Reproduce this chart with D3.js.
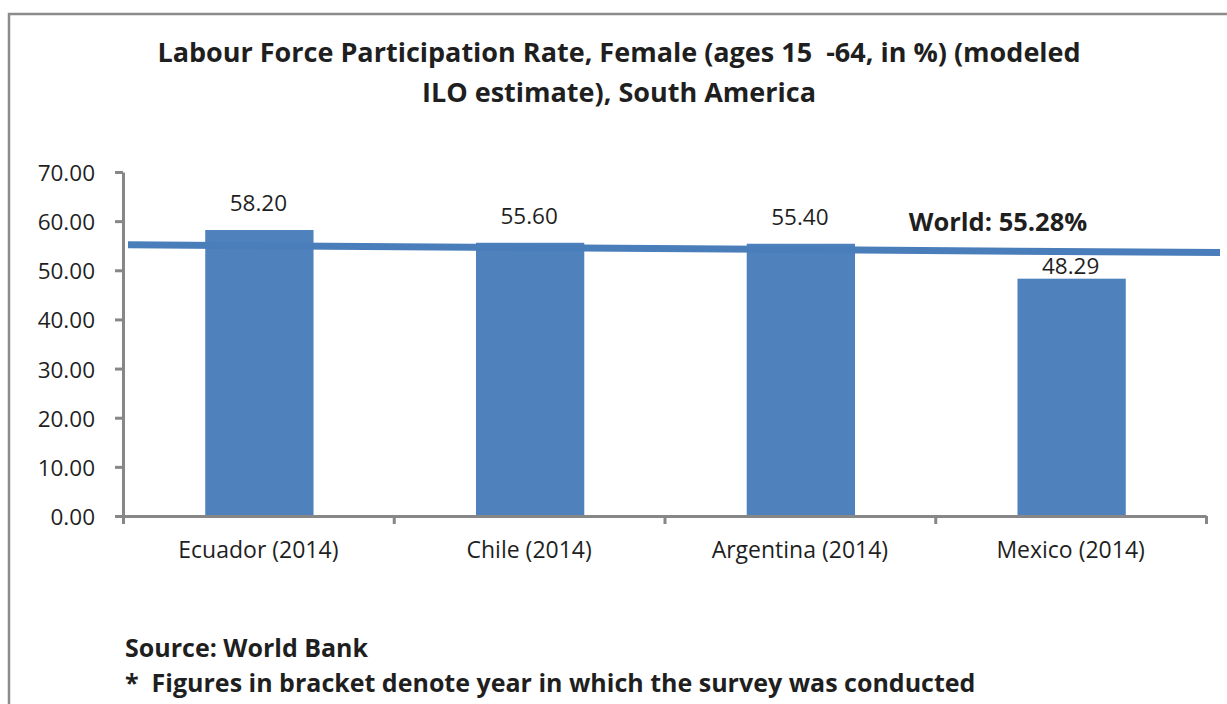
<!DOCTYPE html>
<html>
<head>
<meta charset="utf-8">
<script src="https://cdn.jsdelivr.net/npm/d3@7"></script>
<style>
  body { margin: 0; background: #fff; }
  svg { display: block; font-family: "Open Sans", "Noto Sans", sans-serif; }
  text { white-space: pre; fill: #1f1f1f; }
</style>
</head>
<body>
<svg id="chart"></svg>
<script>
// data
const countries = ["Ecuador (2014)", "Chile (2014)", "Argentina (2014)", "Mexico (2014)"]
const rates = [58.20, 55.60, 55.40, 48.29]
const yTicks = [0, 10, 20, 30, 40, 50, 60, 70]
const worldLine = [55.2, 53.6]   // hand-drawn world average line, left end / right end
const worldLabel = "World: 55.28%"
const titleLines = ["Labour Force Participation Rate, Female (ages 15  -64, in %) (modeled", "ILO estimate), South America"]
const notes = ["Source: World Bank", "*  Figures in bracket denote year in which the survey was conducted"]

const W = 1227, H = 704
const plotLeft = 123, plotRight = 1206, plotTop = 172, plotBottom = 516
const axisGray = "#878787"
const barBlue = "#4f81bd"
const lineBlue = "#4a7ebb"

const svg = d3.select("#chart")
    .attr("width", W)
    .attr("height", H)

// frame
svg.append("rect")
    .attr("x", 9).attr("y", 14)
    .attr("width", W + 20).attr("height", H + 20)
    .attr("fill", "none")
    .attr("stroke", "#8c8c8c")
    .attr("stroke-width", 2.5)

// title
svg.append("g").selectAll("text")
    .data(titleLines)
    .join("text")
    .attr("x", 619)
    .attr("y", (d, i) => 62 + i * 40)
    .attr("text-anchor", "middle")
    .style("font-weight", "bold")
    .style("font-size", "27px")
    .text(d => d)

const x = d3.scaleBand()
    .domain(countries)
    .range([plotLeft, plotRight])
    .paddingInner(0.6)
    .paddingOuter(0.3)

const y = d3.scaleLinear()
    .domain([0, 70])
    .range([plotBottom, plotTop])

// y axis
const yAxis = d3.axisLeft(y)
    .tickValues(yTicks)
    .tickFormat(d3.format(".2f"))
    .tickSize(8)
    .tickSizeOuter(0)
    .tickPadding(20)

const gy = svg.append("g")
    .attr("transform", `translate(${plotLeft},0)`)
    .call(yAxis)
gy.select(".domain").attr("stroke", axisGray).attr("stroke-width", 3)
gy.selectAll(".tick line").attr("stroke", axisGray).attr("stroke-width", 3)
gy.selectAll(".tick text")
    .attr("dy", "0.38em")
    .style("font-size", "22.5px")
    .style("font-family", "'Open Sans', sans-serif")
    .attr("fill", "#1f1f1f")

// bars
svg.append("g").selectAll("rect")
    .data(rates)
    .join("rect")
    .attr("x", (d, i) => x(countries[i]) + 1)
    .attr("y", d => y(d))
    .attr("width", x.bandwidth())
    .attr("height", d => y(0) - y(d))
    .attr("fill", barBlue)

// x axis: boundary ticks between categories
const xb = d3.scaleLinear().domain([0, countries.length]).range([plotLeft, plotRight])
const gx = svg.append("g")
    .attr("transform", `translate(0,${plotBottom})`)
    .call(d3.axisBottom(xb).ticks(countries.length).tickSize(8).tickSizeOuter(0).tickFormat(""))
gx.select(".domain").attr("stroke", axisGray).attr("stroke-width", 3)
gx.selectAll(".tick line").attr("stroke", axisGray).attr("stroke-width", 3)

// category labels
const gl = svg.append("g")
    .attr("transform", `translate(0,${plotBottom})`)
    .call(d3.axisBottom(x).tickSize(0).tickPadding(26))
gl.select(".domain").remove()
gl.selectAll(".tick text")
    .style("font-size", "23px")
    .style("font-family", "'Open Sans', sans-serif")
    .attr("fill", "#1f1f1f")

// world average line
const xw = d3.scaleLinear().domain([0, worldLine.length - 1]).range([plotLeft + 5, plotRight + 14])
const worldPath = d3.line()
    .x((d, i) => xw(i))
    .y(d => y(d))

svg.append("path")
    .datum(worldLine)
    .attr("d", worldPath)
    .attr("fill", "none")
    .attr("stroke", lineBlue)
    .attr("stroke-width", 7)

const worldAt = px => {
    const t = (px - xw(0)) / (xw(1) - xw(0))
    return y(worldLine[0] + t * (worldLine[1] - worldLine[0]))
}

svg.append("text")
    .attr("x", 998)
    .attr("y", worldAt(998) - 20)
    .attr("text-anchor", "middle")
    .style("font-weight", "bold")
    .style("font-size", "25.5px")
    .text(worldLabel)

// value labels, pulled down onto the bar when they would hit the world line
svg.append("g").selectAll("text")
    .data(rates)
    .join("text")
    .attr("x", (d, i) => x(countries[i]) + x.bandwidth() / 2)
    .attr("y", (d, i) => {
        const cx = x(countries[i]) + x.bandwidth() / 2
        const ly = y(d) - 19
        return (ly > worldAt(cx) - 4) ? y(d) - 5 : ly
    })
    .attr("text-anchor", "middle")
    .style("font-size", "22.5px")
    .text(d => d3.format(".2f")(d))

// notes
svg.append("g").selectAll("text")
    .data(notes)
    .join("text")
    .attr("x", 125)
    .attr("y", (d, i) => 657 + i * 35)
    .style("font-weight", "bold")
    .style("font-size", "25px")
    .text(d => d)
</script>
</body>
</html>
